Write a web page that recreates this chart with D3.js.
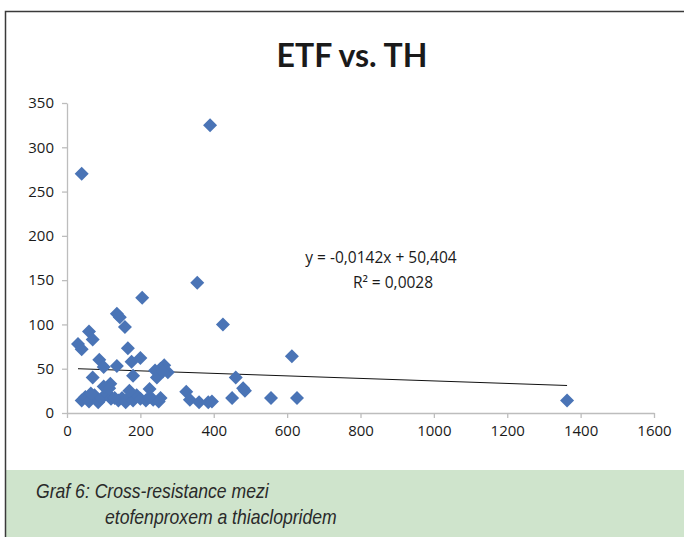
<!DOCTYPE html>
<html>
<head>
<meta charset="utf-8">
<script src="https://cdn.jsdelivr.net/npm/d3@7"></script>
<style>
  body { margin: 0; background: #fff; }
  svg { display: block; }
</style>
</head>
<body>
<div id="chart"></div>
<script>
// ETF vs. TH - scatter with linear trend line

// data
var etfValues = [40, 390, 355, 205, 425, 613, 460, 480, 485, 450, 556, 627, 1363, 325, 335, 360, 385, 395,
  30, 40, 60, 70, 136, 144, 158, 166, 176, 200, 180, 265, 255, 275, 240, 70, 88, 100, 136, 118, 225, 245, 262, 235, 255, 250,
  40, 50, 60, 75, 85, 95, 110, 120, 140, 150, 160, 170, 180, 190, 200, 215, 225, 130, 65, 100, 115, 170];
var thValues = [270, 325, 147, 130, 100, 64, 40, 28, 25, 17, 17, 17, 14, 24, 15, 12, 12, 13,
  78, 72, 92, 83, 112, 108, 97, 73, 58, 62, 42, 54, 50, 46, 48, 40, 60, 52, 53, 33, 27, 40, 47, 15, 17, 13,
  14, 18, 13, 20, 12, 17, 22, 16, 14, 17, 12, 18, 14, 20, 16, 14, 18, 17, 22, 30, 28, 25];
var xTicks = [0, 200, 400, 600, 800, 1000, 1200, 1400, 1600];
var yTicks = [0, 50, 100, 150, 200, 250, 300, 350];
var trend = { slope: -0.0142, intercept: 50.404 };
var trendLabels = ["y = -0,0142x + 50,404", "R² = 0,0028"];
var titleText = "ETF vs. TH";
var captionLines = ["Graf 6: Cross-resistance mezi", "etofenproxem a thiaclopridem"];

var data = etfValues.map(function(v, i) { return { x: v, y: thValues[i] }; });

var W = 684, H = 537;
var svg = d3.select("#chart").append("svg")
  .attr("width", W)
  .attr("height", H);

// frame and caption box
svg.append("rect")
  .attr("x", 6).attr("y", 470)
  .attr("width", W - 6).attr("height", H - 470)
  .attr("fill", "#cfe4cc");

svg.append("path")
  .attr("d", "M5.5," + H + " V11.5 H" + W)
  .attr("fill", "none")
  .attr("stroke", "#3a3a3a")
  .attr("stroke-width", 1.5);

// scales
var xScale = d3.scaleLinear().domain([0, 1600]).range([67, 654]);
var yScale = d3.scaleLinear().domain([0, 350]).range([413, 103]);

// axes
var xAxis = d3.axisBottom(xScale).tickValues(xTicks).tickFormat(d3.format("d")).tickSize(5).tickSizeOuter(0);
var yAxis = d3.axisLeft(yScale).tickValues(yTicks).tickFormat(d3.format("d")).tickSize(5).tickSizeOuter(0);

var gx = svg.append("g")
  .attr("transform", "translate(0," + yScale(0) + ")")
  .call(xAxis);
var gy = svg.append("g")
  .attr("transform", "translate(" + xScale(0) + ",0)")
  .call(yAxis);

[gx, gy].forEach(function(g) {
  g.selectAll(".domain").attr("stroke", "#bdbdbd").attr("stroke-width", 1.3);
  g.selectAll(".tick line").attr("stroke", "#bdbdbd").attr("stroke-width", 1.3);
  g.selectAll(".tick text")
    .attr("fill", "#1a1a1a")
    .style("font-family", "Open Sans, Lato, sans-serif")
    .style("font-size", "15px");
});
gx.selectAll(".tick text").attr("dy", "1.0em");
gy.selectAll(".tick text").attr("x", -13);

// title
svg.append("text")
  .attr("x", 352)
  .attr("y", 67)
  .attr("text-anchor", "middle")
  .style("font-family", "Lato, sans-serif")
  .style("font-weight", "bold")
  .style("font-size", "32px")
  .attr("fill", "#1a1a1a")
  .text(titleText);

// trend line over the x-range of the data
var xMin = d3.min(etfValues), xMax = d3.max(etfValues);
svg.append("line")
  .attr("x1", xScale(xMin))
  .attr("y1", yScale(trend.intercept + trend.slope * xMin))
  .attr("x2", xScale(xMax))
  .attr("y2", yScale(trend.intercept + trend.slope * xMax))
  .attr("stroke", "#111")
  .attr("stroke-width", 1);

// diamond markers
var r = 7;
svg.append("g").selectAll("path.pt")
  .data(data)
  .enter()
  .append("path")
  .attr("class", "pt")
  .attr("d", function(d) {
    var cx = xScale(d.x), cy = yScale(d.y);
    return "M" + cx + "," + (cy - r) + "L" + (cx + r) + "," + cy + "L" + cx + "," + (cy + r) + "L" + (cx - r) + "," + cy + "Z";
  })
  .attr("fill", "#4a74b6");

// equation labels
svg.append("text")
  .attr("x", 381).attr("y", 263)
  .attr("text-anchor", "middle")
  .style("font-family", "Open Sans, sans-serif")
  .style("font-size", "15.5px")
  .attr("fill", "#1a1a1a")
  .text(trendLabels[0]);
svg.append("text")
  .attr("x", 393).attr("y", 288)
  .attr("text-anchor", "middle")
  .style("font-family", "Open Sans, sans-serif")
  .style("font-size", "15.5px")
  .attr("fill", "#1a1a1a")
  .text(trendLabels[1]);

// caption (narrow italic)
svg.append("text")
  .attr("transform", "translate(36,498) scale(0.88,1)")
  .style("font-family", "Liberation Sans, sans-serif")
  .style("font-style", "italic")
  .style("font-size", "20px")
  .attr("fill", "#2a2a2a")
  .text(captionLines[0]);
svg.append("text")
  .attr("transform", "translate(105,524) scale(0.88,1)")
  .style("font-family", "Liberation Sans, sans-serif")
  .style("font-style", "italic")
  .style("font-size", "20px")
  .attr("fill", "#2a2a2a")
  .text(captionLines[1]);
</script>
</body>
</html>
